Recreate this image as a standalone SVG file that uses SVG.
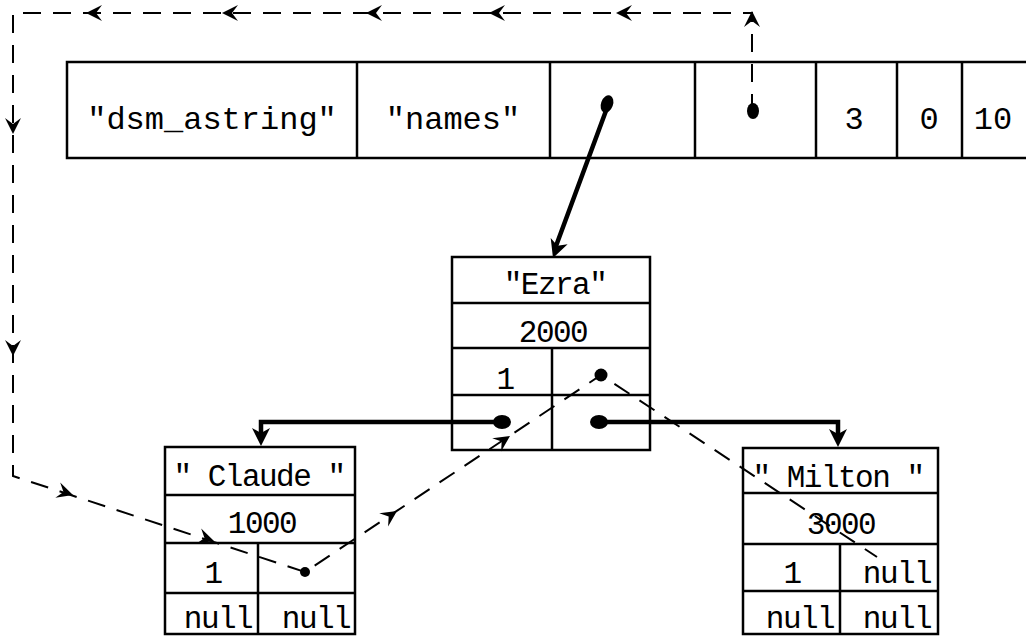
<svg xmlns="http://www.w3.org/2000/svg" xmlns:xlink="http://www.w3.org/1999/xlink" width="1026" height="638" viewBox="0 0 1026 638">
<style>
.box{fill:none;stroke:#000;stroke-width:2.5}
.ln{stroke:#000;stroke-width:2.5;fill:none}
.t{font-family:"Liberation Mono","DejaVu Sans Mono",monospace;font-size:31px;letter-spacing:-1.5px;fill:#000;text-anchor:middle}
.tt{font-family:"Liberation Mono","DejaVu Sans Mono",monospace;font-size:32px;fill:#000;text-anchor:middle}
.thick{stroke:#000;stroke-width:4.5;fill:none;stroke-linecap:round}
.dash{stroke:#000;stroke-width:2;fill:none;stroke-dasharray:18 12}
.dot{fill:#000}
</style>
<defs>
<path id="ah" d="M0,0 L-16,-8 L-10,0 L-16,8 Z" fill="#000"/>
<path id="tah" d="M0,0 L-18,-9 L-13,0 L-18,9 Z" fill="#000"/>
</defs>
<rect width="1026" height="638" fill="#fff"/>

<g id="record">
<rect class="box" x="67" y="62" width="1000" height="96"/>
<line class="ln" x1="357" y1="62" x2="357" y2="158"/>
<line class="ln" x1="550" y1="62" x2="550" y2="158"/>
<line class="ln" x1="695" y1="62" x2="695" y2="158"/>
<line class="ln" x1="816" y1="62" x2="816" y2="158"/>
<line class="ln" x1="897" y1="62" x2="897" y2="158"/>
<line class="ln" x1="962" y1="62" x2="962" y2="158"/>
<text class="tt" x="212" y="129">"dsm_astring"</text>
<text class="tt" x="453" y="129">"names"</text>
<text class="tt" x="854" y="129">3</text>
<text class="tt" x="929" y="129">0</text>
<text class="tt" x="993" y="129">10</text>
</g>

<g id="node-ezra">
<rect class="box" x="452" y="257" width="198" height="193"/>
<line class="ln" x1="452" y1="303" x2="650" y2="303"/>
<line class="ln" x1="452" y1="348" x2="650" y2="348"/>
<line class="ln" x1="452" y1="395" x2="650" y2="395"/>
<line class="ln" x1="552" y1="348" x2="552" y2="450"/>
<text class="t" x="555" y="294">"Ezra"</text>
<text class="t" x="553" y="342">2000</text>
<text class="t" x="505" y="389">1</text>
</g>

<g id="node-claude">
<rect class="box" x="165" y="447" width="190" height="187"/>
<line class="ln" x1="165" y1="495" x2="355" y2="495"/>
<line class="ln" x1="165" y1="543" x2="355" y2="543"/>
<line class="ln" x1="165" y1="593" x2="355" y2="593"/>
<line class="ln" x1="258" y1="543" x2="258" y2="634"/>
<text class="t" x="259" y="486">" Claude "</text>
<text class="t" x="262" y="533">1000</text>
<text class="t" x="213" y="583">1</text>
<text class="t" x="218" y="628">null</text>
<text class="t" x="316" y="628">null</text>
</g>

<g id="node-milton">
<rect class="box" x="743" y="448" width="195" height="186"/>
<line class="ln" x1="743" y1="493" x2="938" y2="493"/>
<line class="ln" x1="743" y1="544" x2="938" y2="544"/>
<line class="ln" x1="743" y1="591" x2="938" y2="591"/>
<line class="ln" x1="840" y1="544" x2="840" y2="634"/>
<text class="t" x="838" y="487">" Milton "</text>
<text class="t" x="841" y="534">3000</text>
<text class="t" x="792" y="583">1</text>
<text class="t" x="897" y="583">null</text>
<text class="t" x="800" y="628">null</text>
<text class="t" x="897" y="628">null</text>
</g>

<g id="connectors">
<line class="thick" x1="607" y1="108" x2="556" y2="246"/>
<ellipse class="dot" cx="607" cy="104" rx="6" ry="9" transform="rotate(20 607 104)"/>
<use xlink:href="#tah" transform="translate(553,258) rotate(110)"/>

<polyline class="thick" points="503,422 261,422 261,436"/>
<ellipse class="dot" cx="502" cy="422" rx="9" ry="7"/>
<use xlink:href="#tah" transform="translate(261,446) rotate(90)"/>

<polyline class="thick" points="598,422 838,422 838,436"/>
<ellipse class="dot" cx="599" cy="422" rx="9" ry="7"/>
<use xlink:href="#tah" transform="translate(838,447) rotate(90)"/>

<path class="dash" d="M752,112 V13 H13 V476 L305,572 L601,375 L877,557"/>
<ellipse class="dot" cx="753" cy="111" rx="6" ry="8"/>
<circle class="dot" cx="305" cy="572" r="5"/>
<circle class="dot" cx="601" cy="375" r="6.5"/>
<use xlink:href="#ah" transform="translate(752,11) rotate(-90)"/>
<use xlink:href="#ah" transform="translate(86,13) rotate(180)"/>
<use xlink:href="#ah" transform="translate(222,13) rotate(180)"/>
<use xlink:href="#ah" transform="translate(366,13) rotate(180)"/>
<use xlink:href="#ah" transform="translate(489,13) rotate(180)"/>
<use xlink:href="#ah" transform="translate(616,13) rotate(180)"/>
<use xlink:href="#ah" transform="translate(13,134) rotate(90)"/>
<use xlink:href="#ah" transform="translate(13,356) rotate(90)"/>
<use xlink:href="#ah" transform="translate(73,495) rotate(17.7)"/>
<use xlink:href="#ah" transform="translate(214,541) rotate(17.7)"/>
<use xlink:href="#ah" transform="translate(397,511) rotate(-33.6)"/>
<use xlink:href="#ah" transform="translate(510,436) rotate(-33.6)"/>
</g>
</svg>
